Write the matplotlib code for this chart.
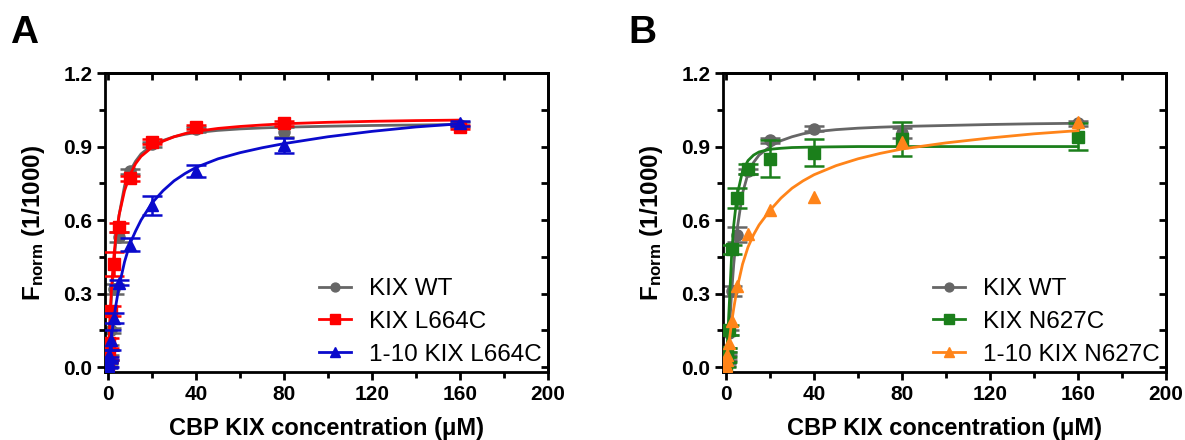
import numpy as np
import matplotlib.pyplot as plt
from matplotlib.ticker import MultipleLocator

plt.rcParams['font.family'] = ['Liberation Sans', 'DejaVu Sans']
plt.rcParams['mathtext.fontset'] = 'custom'
plt.rcParams['mathtext.rm'] = 'Liberation Sans:bold'
plt.rcParams['mathtext.bf'] = 'Liberation Sans:bold'
plt.rcParams['mathtext.it'] = 'Liberation Sans:bold:italic'

# CBP KIX concentrations (uM)
conc = [0.078, 0.156, 0.3125, 0.625, 1.25, 2.5, 5, 10, 20, 40, 80, 160]

# panel A data
a_wt = [0.01, 0.02, 0.04, 0.08, 0.15, 0.32, 0.53, 0.80, 0.91, 0.97, 0.96, 0.99]
a_wt_err = [0.005, 0.005, 0.01, 0.01, 0.01, 0.02, 0.02, 0.01, 0.01, 0.01, 0.02, 0.01]
a_mut = [0.01, 0.03, 0.05, 0.10, 0.23, 0.42, 0.57, 0.77, 0.92, 0.98, 0.995, 0.98]
a_mut_err = [0.01, 0.01, 0.02, 0.02, 0.02, 0.05, 0.02, 0.01, 0.01, 0.01, 0.01, 0.01]
a_frag = [0.005, 0.01, 0.02, 0.05, 0.11, 0.20, 0.345, 0.50, 0.66, 0.80, 0.905, 0.995]
a_frag_err = [0.01, 0.01, 0.02, 0.02, 0.04, 0.02, 0.01, 0.025, 0.04, 0.025, 0.03, 0.01]

# panel B data
b_wt = [0.01, 0.02, 0.04, 0.07, 0.14, 0.31, 0.54, 0.80, 0.925, 0.973, 0.955, 0.995]
b_wt_err = [0.005, 0.005, 0.01, 0.01, 0.01, 0.02, 0.03, 0.01, 0.01, 0.01, 0.02, 0.01]
b_mut = [0.01, 0.03, 0.04, 0.06, 0.15, 0.48, 0.69, 0.81, 0.85, 0.875, 0.93, 0.94]
b_mut_err = [0.01, 0.01, 0.02, 0.02, 0.02, 0.02, 0.04, 0.02, 0.075, 0.055, 0.07, 0.055]
b_frag = [0.005, 0.01, 0.03, 0.05, 0.10, 0.19, 0.33, 0.545, 0.64, 0.695, 0.92, 1.0]

# fitted curves
fit_x = [0, 0.5, 1, 1.5, 2.5, 3.5, 5, 7.5, 10, 12.5, 15, 20, 25, 30, 35, 40, 50, 60, 70,
         80, 100, 120, 140, 160]
a_wt_fit = [0, 0.10, 0.20, 0.28, 0.41, 0.51, 0.62, 0.74, 0.80, 0.84, 0.87, 0.905, 0.925,
            0.94, 0.95, 0.957, 0.966, 0.972, 0.976, 0.979, 0.983, 0.986, 0.988, 0.99]
a_mut_fit = [0, 0.12, 0.23, 0.31, 0.44, 0.53, 0.62, 0.72, 0.785, 0.83, 0.86, 0.897, 0.922,
             0.94, 0.953, 0.962, 0.974, 0.982, 0.988, 0.993, 0.999, 1.003, 1.006, 1.008]
a_frag_fit = [0, 0.04, 0.08, 0.12, 0.19, 0.25, 0.33, 0.43, 0.505, 0.555, 0.60, 0.67, 0.72,
              0.76, 0.79, 0.815, 0.85, 0.875, 0.895, 0.912, 0.94, 0.962, 0.98, 0.993]
b_wt_fit = [0, 0.04, 0.09, 0.15, 0.30, 0.42, 0.56, 0.71, 0.79, 0.835, 0.865, 0.90, 0.924,
            0.94, 0.952, 0.96, 0.969, 0.975, 0.979, 0.982, 0.986, 0.99, 0.993, 0.995]
b_mut_fit = [0, 0.08, 0.17, 0.26, 0.45, 0.58, 0.70, 0.80, 0.843, 0.865, 0.878, 0.889, 0.893,
             0.896, 0.897, 0.898, 0.899, 0.90, 0.90, 0.90, 0.90, 0.90, 0.90, 0.90]
b_frag_fit = [0, 0.04, 0.08, 0.11, 0.18, 0.24, 0.32, 0.42, 0.49, 0.54, 0.58, 0.64, 0.69,
              0.73, 0.76, 0.785, 0.822, 0.85, 0.872, 0.89, 0.915, 0.935, 0.952, 0.965]

GRAY = '#666666'
RED = '#ff0000'
BLUE = '#0a0acc'
GREEN = '#1b7f1b'
ORANGE = '#ff8419'

fig = plt.figure(figsize=(11.85, 4.4), dpi=100)
axA = fig.add_axes([0.0886, 0.1545, 0.3738, 0.6795])
axB = fig.add_axes([0.6101, 0.1545, 0.3738, 0.6795])


def series(ax, y, err, fit, color, marker, ms, label, z):
    ax.plot(fit_x, fit, color=color, lw=2.0, zorder=z)
    if err is not None:
        ax.errorbar(conc, y, yerr=err, fmt='none', ecolor=color, elinewidth=1.8,
                    capsize=7, capthick=1.8, zorder=z)
    ax.plot(conc, y, linestyle='none', marker=marker, ms=ms, color=color, zorder=z + 0.5)
    # legend handle: line with marker
    ax.plot([], [], color=color, lw=2.0, marker=marker, ms=ms * 0.8, label=label)


def style(ax):
    ax.set_xlim(-1.4, 200)
    ax.set_ylim(-0.02, 1.2)
    for s in ax.spines.values():
        s.set_linewidth(2)
    ax.xaxis.set_major_locator(MultipleLocator(40))
    ax.xaxis.set_minor_locator(MultipleLocator(20))
    ax.yaxis.set_minor_locator(MultipleLocator(0.15))
    ax.set_yticks([0, 0.3, 0.6, 0.9, 1.2])
    ax.set_yticklabels(['0.0', '0.3', '0.6', '0.9', '1.2'])
    ax.tick_params(which='major', length=6, width=2, direction='out', labelsize=15, pad=3)
    ax.tick_params(which='minor', length=4, width=2, direction='out')
    for t in ax.get_xticklabels() + ax.get_yticklabels():
        t.set_fontweight('bold')
    # inward ticks on the top and right
    top = ax.secondary_xaxis('top')
    top.xaxis.set_major_locator(MultipleLocator(20))
    top.tick_params(direction='in', length=5, width=2, labeltop=False)
    right = ax.secondary_yaxis('right')
    right.yaxis.set_major_locator(MultipleLocator(0.15))
    right.tick_params(direction='in', length=5, width=2, labelright=False)
    for sec in (top, right):
        for s in sec.spines.values():
            s.set_linewidth(2)
    ax.set_xlabel('CBP KIX concentration (\u03bcM)', fontsize=17, fontweight='bold')
    ax.xaxis.set_label_coords(0.5, -0.15)
    ax.set_ylabel(r'F$_{\mathrm{norm}}$ (1/1000)', fontsize=17.5, fontweight='bold')
    ax.yaxis.set_label_coords(-0.131, 0.5)
    ax.legend(loc='lower right', bbox_to_anchor=(1.0, 0.0), frameon=False, fontsize=17.5,
              handlelength=1.3, handletextpad=0.75, labelspacing=0.45, borderaxespad=0.1,
              borderpad=0.15)


series(axA, a_wt, a_wt_err, a_wt_fit, GRAY, 'o', 8, 'KIX WT', 2)
series(axA, a_mut, a_mut_err, a_mut_fit, RED, 's', 9, 'KIX L664C', 3)
series(axA, a_frag, a_frag_err, a_frag_fit, BLUE, '^', 9, '1-10 KIX L664C', 4)
style(axA)

series(axB, b_wt, b_wt_err, b_wt_fit, GRAY, 'o', 8, 'KIX WT', 2)
series(axB, b_mut, b_mut_err, b_mut_fit, GREEN, 's', 9, 'KIX N627C', 3)
series(axB, b_frag, None, b_frag_fit, ORANGE, '^', 9, '1-10 KIX N627C', 4)
style(axB)

fig.text(0.0085, 0.902, 'A', fontsize=28, fontweight='bold', va='baseline')
fig.text(0.530, 0.902, 'B', fontsize=28, fontweight='bold', va='baseline')

fig.savefig('out.png', dpi=100)
